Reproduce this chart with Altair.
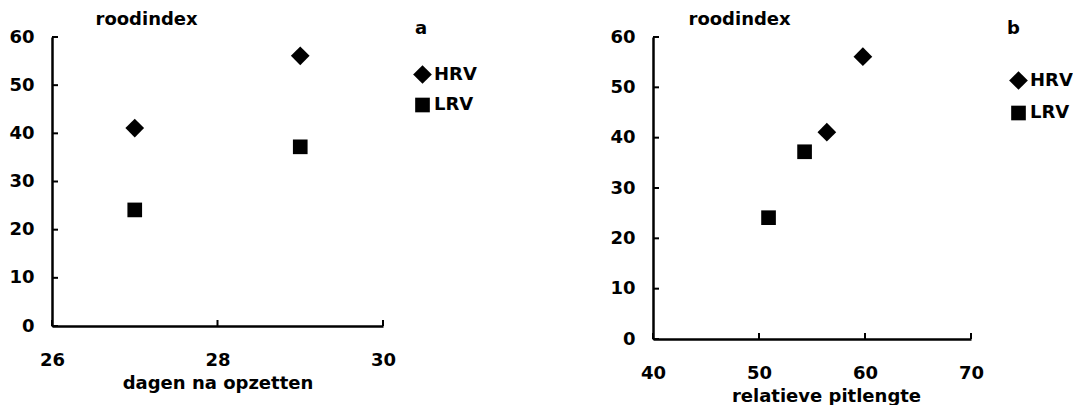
import altair as alt
import pandas as pd

FONT = "DejaVu Sans"
FS = 18

# Measurements per fruit group
series = ["HRV", "HRV", "LRV", "LRV"]
dagen = [27, 29, 27, 29]                 # days after setting
pitlengte = [56.4, 59.8, 50.9, 54.3]     # relative pit length
roodindex = [41.1, 56.1, 24.1, 37.2]     # red index

y_ticks = [0, 10, 20, 30, 40, 50, 60]
x_ticks_a = [26, 28, 30]
x_ticks_b = [40, 50, 60, 70]

df = pd.DataFrame({"serie": series, "dagen": dagen,
                   "pitlengte": pitlengte, "roodindex": roodindex})

text_style = dict(labelFont=FONT, labelFontSize=FS, labelColor="black",
                  labelFontWeight="bold", titleFont=FONT, titleFontSize=FS,
                  titleColor="black", titleFontWeight="bold")


def panel(xfield, xtitle, xdomain, xticks, w, h, letter, letter_xy,
          legend_xy, row_pad, title_x, xtitle_x=None):
    xaxis_kw = dict(values=xticks, title=xtitle, tickSize=0, labelPadding=25,
                    grid=False, domainWidth=2.5, domainColor="black",
                    format="d", labelFlush=False, titlePadding=5, **text_style)
    if xtitle_x is not None:
        xaxis_kw["titleX"] = xtitle_x
    x_enc = alt.X(f"{xfield}:Q",
                  scale=alt.Scale(domain=xdomain, nice=False, zero=False),
                  axis=alt.Axis(**xaxis_kw))
    y_enc = alt.Y("roodindex:Q",
                  scale=alt.Scale(domain=[0, 60], nice=False),
                  axis=alt.Axis(values=y_ticks, title="roodindex", tickSize=0,
                                labelPadding=18, grid=False, domainWidth=2.5,
                                domainColor="black", labelFlush=False,
                                titleAngle=0, titleAlign="left",
                                titleBaseline="alphabetic",
                                titleX=title_x, titleY=-13, **text_style))

    legend = alt.Legend(title=None, orient="none",
                        legendX=legend_xy[0], legendY=legend_xy[1],
                        labelFont=FONT, labelFontSize=FS,
                        labelFontWeight="bold", labelColor="black",
                        symbolFillColor="black", symbolStrokeColor="black",
                        symbolOpacity=1, rowPadding=row_pad, labelOffset=1)

    points = alt.Chart(df).mark_point(filled=True, opacity=1, color="black").encode(
        x=x_enc,
        y=y_enc,
        shape=alt.Shape("serie:N",
                        scale=alt.Scale(domain=["HRV", "LRV"], range=["diamond", "square"]),
                        legend=legend),
        size=alt.Size("serie:N",
                      scale=alt.Scale(domain=["HRV", "LRV"], range=[350, 215]),
                      legend=legend),
    )

    # inward-pointing tick marks
    yt = alt.Chart(pd.DataFrame({"roodindex": y_ticks})).mark_rule(
        color="black", strokeWidth=2).encode(
        y="roodindex:Q", x=alt.value(0), x2=alt.value(6))
    xt = alt.Chart(pd.DataFrame({xfield: xticks})).mark_rule(
        color="black", strokeWidth=2).encode(
        x=f"{xfield}:Q", y=alt.value(h), y2=alt.value(h - 6))

    tag = alt.Chart(pd.DataFrame({"l": [letter]})).mark_text(
        font=FONT, fontSize=FS, fontWeight="bold", align="left",
        baseline="alphabetic", color="black").encode(
        text="l:N", x=alt.value(letter_xy[0]), y=alt.value(letter_xy[1]))

    return alt.layer(points, yt, xt, tag).properties(width=w, height=h)


a = panel("dagen", "dagen na opzetten", [26, 30], x_ticks_a, 331, 289,
          "a", (363, -3), (360, 27), 7, 43)
b = panel("pitlengte", "relatieve pitlengte", [40, 70], x_ticks_b, 318, 302,
          "b", (354, -3), (355, 33), 9, 35, 173)

chart = alt.hconcat(a, b, spacing=270, bounds="flush").resolve_scale(
    x="independent", shape="independent", size="independent"
).resolve_legend(shape="independent", size="independent").configure_view(
    stroke=None
).properties(
    padding={"left": 8, "top": 10, "right": 0, "bottom": 0},
    background="white",
)

chart.save("out.html", embed_options={"renderer": "svg", "actions": False})
